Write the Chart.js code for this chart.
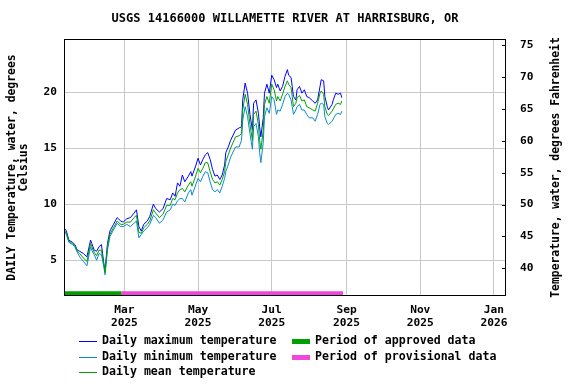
<!DOCTYPE html>
<html>
<head>
<meta charset="utf-8">
<script src="https://cdn.jsdelivr.net/npm/chart.js@4"></script>
<style>
  html, body { margin: 0; padding: 0; background: #fff; }
</style>
</head>
<body>
<canvas id="temps" width="576" height="384"></canvas>
<script>
// days since 2025-01-01
var days = [
  9, 11, 13, 16, 18, 20, 22, 25, 28, 31, 32, 34, 36, 38, 40, 42, 43, 45, 47, 50,
  53, 56, 58, 61, 64, 67, 69, 71, 73, 75, 78, 80, 83, 85, 88,
  91, 94, 97, 99, 101, 103, 105, 107, 109, 112, 114, 115, 118, 120, 122, 124, 126, 128,
  130, 132, 134, 136, 138, 140, 142, 143, 145, 147,
  151, 154, 156, 157, 159, 161, 163, 165, 166, 168, 170, 171, 172, 174, 175, 177, 179,
  181, 183, 185, 186, 188, 190, 192, 194, 195, 197, 198, 199, 201, 202, 204, 206, 208,
  210, 212, 215, 217, 219, 221, 222, 224, 225, 227, 228, 231, 232, 234, 236, 238, 239
];
var maxTemp = [
  7.9, 7.6, 6.8, 6.6, 6.4, 5.9, 5.8, 5.6, 5.3, 6.8, 6.5, 5.9, 5.8, 6.2, 6.4, 4.7, 4.1, 6.5, 7.6, 8.2,
  8.8, 8.5, 8.4, 8.7, 8.8, 9.2, 9.5, 8.0, 7.6, 8.2, 8.5, 8.9, 10.0, 9.6, 9.3,
  9.6, 10.5, 10.4, 11.0, 10.7, 11.9, 11.6, 12.6, 12.0, 12.5, 12.9, 12.5, 13.4, 14.1, 13.5, 14.0, 14.4, 14.6,
  14.0, 13.1, 12.5, 12.6, 12.2, 12.6, 13.5, 14.6, 15.1, 15.7,
  16.6, 16.8, 16.9, 19.3, 20.8, 19.9, 18.0, 16.6, 19.0, 19.3, 18.1, 16.9, 16.0, 17.7, 19.9, 20.7, 19.9,
  21.5, 21.1, 20.4, 20.7, 20.1, 20.5, 21.4, 22.0, 21.5, 21.3, 20.5, 19.6, 19.3, 20.2, 20.5, 19.9, 20.2,
  19.6, 19.5, 19.2, 19.0, 19.3, 20.5, 21.1, 21.0, 19.6, 18.7, 18.4, 18.9, 19.3, 19.9, 19.8, 19.9, 19.5
];
var minTemp = [
  7.6, 7.3, 6.6, 6.4, 6.2, 5.7, 5.3, 4.9, 4.5, 6.2, 5.9, 5.5, 5.0, 5.6, 5.5, 4.4, 3.7, 5.9, 7.1, 7.7,
  8.3, 8.0, 8.0, 8.2, 8.0, 8.3, 8.5, 7.0, 7.3, 7.6, 7.9, 8.2, 9.0, 8.8, 8.3,
  8.6, 9.3, 9.5, 10.0, 9.9, 10.3, 10.5, 10.5, 10.2, 11.0, 11.3, 10.8, 11.7, 12.3, 12.0, 12.5, 12.9, 12.8,
  12.0, 11.3, 11.1, 11.3, 11.0, 11.6, 12.3, 12.9, 13.5, 14.2,
  15.1, 15.1, 15.7, 17.5, 18.7, 17.8, 16.3, 14.9, 16.9, 17.2, 16.0, 14.6, 13.7, 15.5, 17.8, 18.6, 18.1,
  19.6, 19.3, 18.0, 18.4, 18.3, 18.9, 19.6, 19.9, 19.8, 19.3, 18.7, 18.0, 18.4, 18.7, 18.9, 18.4, 18.4,
  18.0, 17.7, 17.7, 17.4, 18.0, 18.9, 19.0, 18.9, 17.8, 17.2, 17.1, 17.4, 17.6, 18.0, 18.1, 18.0, 18.3
];
var meanTemp = [
  7.7, 7.4, 6.7, 6.5, 6.3, 5.8, 5.6, 5.2, 4.9, 6.5, 6.2, 5.7, 5.4, 5.9, 5.9, 4.6, 3.9, 6.2, 7.3, 7.9,
  8.5, 8.2, 8.2, 8.4, 8.4, 8.8, 9.0, 7.5, 7.4, 7.9, 8.2, 8.5, 9.5, 9.2, 8.8,
  9.1, 9.9, 9.9, 10.5, 10.4, 11.0, 11.3, 11.4, 11.1, 11.7, 12.0, 11.6, 12.5, 13.2, 12.8, 13.2, 13.7, 13.7,
  12.9, 12.2, 11.9, 12.0, 11.7, 12.2, 12.9, 13.8, 14.4, 15.0,
  16.0, 16.1, 16.3, 18.4, 19.8, 18.9, 17.1, 15.7, 18.0, 18.3, 17.1, 15.7, 14.9, 16.6, 18.9, 19.6, 19.0,
  20.7, 20.2, 19.2, 19.6, 19.2, 19.8, 20.5, 21.0, 20.7, 20.4, 19.6, 18.7, 19.0, 19.5, 19.7, 19.2, 19.3,
  18.7, 18.6, 18.4, 18.3, 19.0, 19.9, 20.1, 19.8, 18.7, 18.0, 17.9, 18.3, 18.5, 18.9, 19.0, 18.9, 19.2
];
var approvedPeriod = [9, 56.5];
var provisionalPeriod = [56.5, 240];

var tickDays = [59, 120, 181, 243, 304, 365];
var tickLabels = [['Mar', '2025'], ['May', '2025'], ['Jul', '2025'], ['Sep', '2025'], ['Nov', '2025'], ['Jan', '2026']];
var celsiusTicks = [5, 10, 15, 20];
var fahrenheitTicks = [40, 45, 50, 55, 60, 65, 70, 75];

var chartTitle = 'USGS 14166000 WILLAMETTE RIVER AT HARRISBURG, OR';
var leftTitle = ['DAILY Temperature, water, degrees', 'Celsius'];
var rightTitle = 'Temperature, water, degrees Fahrenheit';

var MONO = '"DejaVu Sans Mono", monospace';
var gridColor = '#c8c8c8';
var barLevel = 2.05;

function pts(xs, ys) {
  return xs.map(function (d, i) { return { x: d, y: ys[i] }; });
}
function span(p) {
  return [{ x: p[0], y: barLevel }, { x: p[1], y: barLevel }];
}

var legendItems = [
  { col: 0, row: 0, text: 'Daily maximum temperature', color: '#0000ff', width: 1 },
  { col: 0, row: 1, text: 'Daily minimum temperature', color: '#0a8ad2', width: 1 },
  { col: 0, row: 2, text: 'Daily mean temperature', color: '#00a000', width: 1 },
  { col: 1, row: 0, text: 'Period of approved data', color: '#00a000', width: 5 },
  { col: 1, row: 1, text: 'Period of provisional data', color: '#f046dc', width: 5 }
];

var decor = {
  id: 'decor',
  afterDraw: function (chart) {
    var ctx = chart.ctx, a = chart.chartArea, y2 = chart.scales.y2;
    ctx.save();
    ctx.strokeStyle = '#000';
    ctx.lineWidth = 1;
    ctx.strokeRect(a.left + 0.5, a.top + 0.5, a.right - a.left - 1, a.bottom - a.top - 1);
    fahrenheitTicks.forEach(function (f) {
      var y = Math.round(y2.getPixelForValue(f)) + 0.5;
      ctx.beginPath();
      ctx.moveTo(a.right - 4, y);
      ctx.lineTo(a.right, y);
      ctx.stroke();
    });

    ctx.fillStyle = '#000';
    ctx.textBaseline = 'middle';
    ctx.textAlign = 'center';
    ctx.font = 'bold 12px ' + MONO;
    ctx.fillText(chartTitle, (a.left + a.right) / 2, 19);

    var cy = (a.top + a.bottom) / 2;
    ctx.font = 'bold 11.4px ' + MONO;
    [12, 24].forEach(function (x, i) {
      ctx.save();
      ctx.translate(x, cy);
      ctx.rotate(-Math.PI / 2);
      ctx.fillText(leftTitle[i], 0, 0);
      ctx.restore();
    });
    ctx.save();
    ctx.translate(556, cy);
    ctx.rotate(-Math.PI / 2);
    ctx.fillText(rightTitle, 0, 0);
    ctx.restore();

    ctx.textAlign = 'left';
    ctx.font = 'bold 11.6px ' + MONO;
    legendItems.forEach(function (it) {
      var x0 = it.col ? 292 : 79;
      var y = 341 + it.row * 15.5;
      ctx.strokeStyle = it.color;
      ctx.lineWidth = it.width;
      ctx.beginPath();
      ctx.moveTo(x0, Math.round(y) + 0.5);
      ctx.lineTo(x0 + 18, Math.round(y) + 0.5);
      ctx.stroke();
      ctx.fillText(it.text, x0 + 23, y);
    });
    ctx.restore();
  }
};

var tickFont = { family: MONO, size: 11.2, weight: 'bold', lineHeight: 1.15 };

var tempChart = new Chart(document.getElementById('temps').getContext('2d'), {
  type: 'line',
  data: {
    datasets: [
      { label: 'Daily mean temperature', data: pts(days, meanTemp), borderColor: '#00a000', order: 0 },
      { label: 'Daily minimum temperature', data: pts(days, minTemp), borderColor: '#0a8ad2', order: 1 },
      { label: 'Daily maximum temperature', data: pts(days, maxTemp), borderColor: '#0000ff', order: 2 },
      { label: 'Period of approved data', data: span(approvedPeriod), borderColor: '#00a000', borderWidth: 4, order: 3 },
      { label: 'Period of provisional data', data: span(provisionalPeriod), borderColor: '#f046dc', borderWidth: 4, order: 3 }
    ]
  },
  options: {
    responsive: false,
    animation: false,
    devicePixelRatio: 1,
    layout: { padding: { top: 39, left: 0, right: 0, bottom: 0 } },
    elements: {
      line: { borderWidth: 1, tension: 0, fill: false, borderCapStyle: 'butt' },
      point: { radius: 0 }
    },
    plugins: {
      legend: { display: false },
      title: { display: false },
      tooltip: { enabled: false }
    },
    scales: {
      x: {
        type: 'linear',
        min: 9,
        max: 375,
        afterBuildTicks: function (s) { s.ticks = tickDays.map(function (v) { return { value: v }; }); },
        afterFit: function (s) { s.height = 88; },
        ticks: {
          autoSkip: false,
          maxRotation: 0,
          padding: 8,
          color: '#000',
          font: tickFont,
          callback: function (v, i) { return tickLabels[i]; }
        },
        grid: { color: gridColor, drawTicks: false },
        border: { display: false }
      },
      y: {
        position: 'left',
        min: 1.81,
        max: 24.73,
        afterBuildTicks: function (s) { s.ticks = celsiusTicks.map(function (v) { return { value: v }; }); },
        afterFit: function (s) { s.width = 64; },
        ticks: { padding: 7, color: '#000', font: tickFont },
        grid: { color: gridColor, drawTicks: false },
        border: { display: false }
      },
      y2: {
        position: 'right',
        min: 35.63,
        max: 76.0,
        afterBuildTicks: function (s) { s.ticks = fahrenheitTicks.map(function (v) { return { value: v }; }); },
        afterFit: function (s) { s.width = 70; },
        ticks: { padding: 14, color: '#000', font: tickFont },
        grid: { drawOnChartArea: false, drawTicks: false },
        border: { display: false }
      }
    }
  },
  plugins: [decor]
});
</script>
</body>
</html>
